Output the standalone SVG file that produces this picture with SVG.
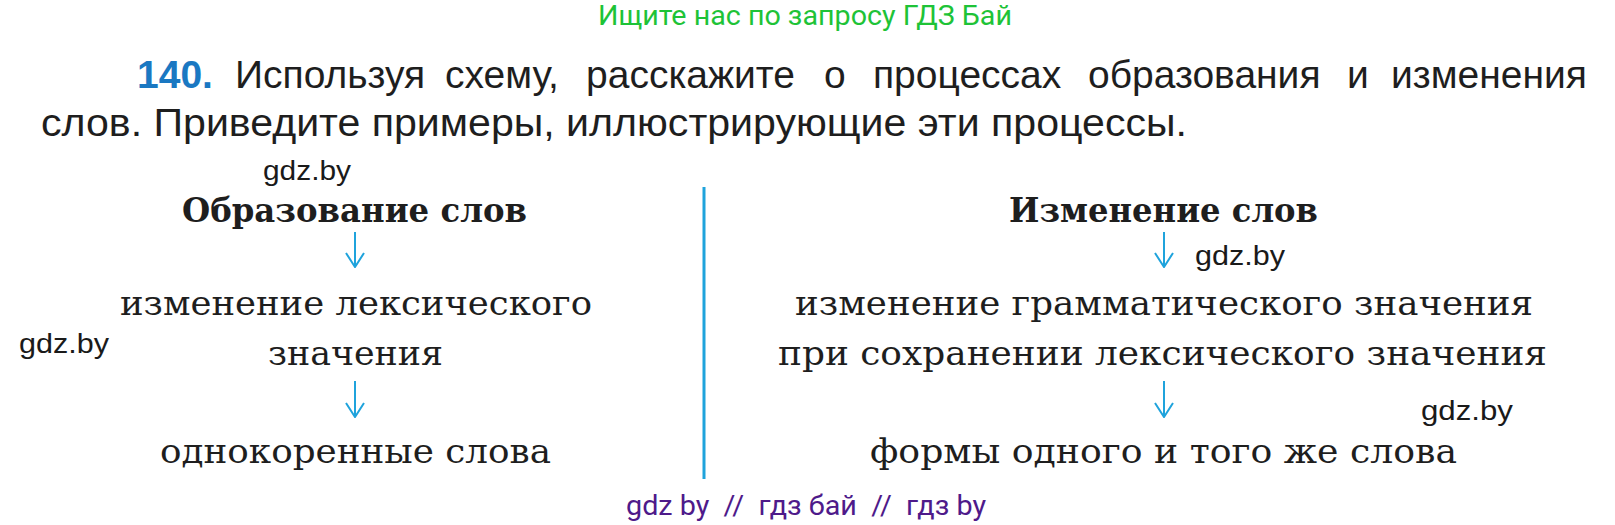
<svg xmlns="http://www.w3.org/2000/svg" width="1615" height="525" viewBox="0 0 1615 525">
<defs>
<style>
.wm{font-family:Roboto,"Liberation Sans",sans-serif;}
.sans{font-family:"Liberation Sans",Arial,sans-serif;fill:#1e1e1e;}
.serif{font-family:"DejaVu Serif","Liberation Serif",serif;fill:#1e1e1e;}
.head{font-family:"DejaVu Serif","Liberation Serif",serif;font-weight:bold;fill:#1e1e1e;font-size:34px;}
.body{font-size:33px;}
.gdz{font-family:"Liberation Sans",Arial,sans-serif;fill:#1a1a1a;font-size:27px;}
.conn{stroke:#1fa3dc;stroke-width:2;fill:none;}
</style>
<marker id="ah" viewBox="0 0 16 20" refX="15" refY="10" markerWidth="16" markerHeight="20" markerUnits="userSpaceOnUse" orient="auto">
<path d="M1,1 L15,10 L1,19" fill="none" stroke="#1fa3dc" stroke-width="2"/>
</marker>
</defs>
<rect width="1615" height="525" fill="#ffffff"/>

<text class="wm" x="598" y="25" font-size="27" fill="#1ec337" textLength="414" lengthAdjust="spacingAndGlyphs">Ищите нас по запросу ГДЗ Бай</text>

<g id="task">
<text class="sans" y="88" font-size="39"><tspan x="137" font-weight="bold" fill="#1a78c2">140.</tspan><tspan x="235">Используя</tspan><tspan x="445">схему,</tspan><tspan x="586">расскажите</tspan><tspan x="824">о</tspan><tspan x="873">процессах</tspan><tspan x="1088">образования</tspan><tspan x="1347">и</tspan><tspan x="1391">изменения</tspan></text>
<text class="sans" x="41" y="136" font-size="39" textLength="1146" lengthAdjust="spacingAndGlyphs">слов. Приведите примеры, иллюстрирующие эти процессы.</text>
</g>

<g id="watermarks">
<text class="gdz" x="263" y="180" textLength="88" lengthAdjust="spacingAndGlyphs">gdz.by</text>
<text class="gdz" x="19" y="353" textLength="90" lengthAdjust="spacingAndGlyphs">gdz.by</text>
<text class="gdz" x="1195" y="265" textLength="90" lengthAdjust="spacingAndGlyphs">gdz.by</text>
<text class="gdz" x="1421" y="420" textLength="92" lengthAdjust="spacingAndGlyphs">gdz.by</text>
<text class="wm" x="626" y="515" font-size="27" fill="#4e1a8a" textLength="360" lengthAdjust="spacingAndGlyphs" xml:space="preserve">gdz by  //  гдз бай  //  гдз by</text>
</g>

<g id="divider">
<line x1="704" y1="187" x2="704" y2="479" stroke="#1fa3dc" stroke-width="3"/>
</g>

<g id="node-obrazovanie">
<text class="head" x="182" y="222" textLength="345" lengthAdjust="spacingAndGlyphs">Образование слов</text>
</g>
<g id="node-izm-leks">
<text class="serif body" x="120" y="315" textLength="472" lengthAdjust="spacingAndGlyphs">изменение лексического</text>
<text class="serif body" x="268" y="365" textLength="175" lengthAdjust="spacingAndGlyphs">значения</text>
</g>
<g id="node-odnokorennye">
<text class="serif body" x="160" y="463" textLength="391" lengthAdjust="spacingAndGlyphs">однокоренные слова</text>
</g>

<g id="node-izmenenie">
<text class="head" x="1009" y="222" textLength="309" lengthAdjust="spacingAndGlyphs">Изменение слов</text>
</g>
<g id="node-izm-gramm">
<text class="serif body" x="795" y="315" textLength="738" lengthAdjust="spacingAndGlyphs">изменение грамматического значения</text>
<text class="serif body" x="778" y="365" textLength="769" lengthAdjust="spacingAndGlyphs">при сохранении лексического значения</text>
</g>
<g id="node-formy">
<text class="serif body" x="870" y="463" textLength="587" lengthAdjust="spacingAndGlyphs">формы одного и того же слова</text>
</g>

<g id="connectors">
<line class="conn" x1="355" y1="232" x2="355" y2="267" marker-end="url(#ah)"/>
<line class="conn" x1="355" y1="381" x2="355" y2="417" marker-end="url(#ah)"/>
<line class="conn" x1="1164" y1="232" x2="1164" y2="267" marker-end="url(#ah)"/>
<line class="conn" x1="1164" y1="381" x2="1164" y2="417" marker-end="url(#ah)"/>
</g>
</svg>
